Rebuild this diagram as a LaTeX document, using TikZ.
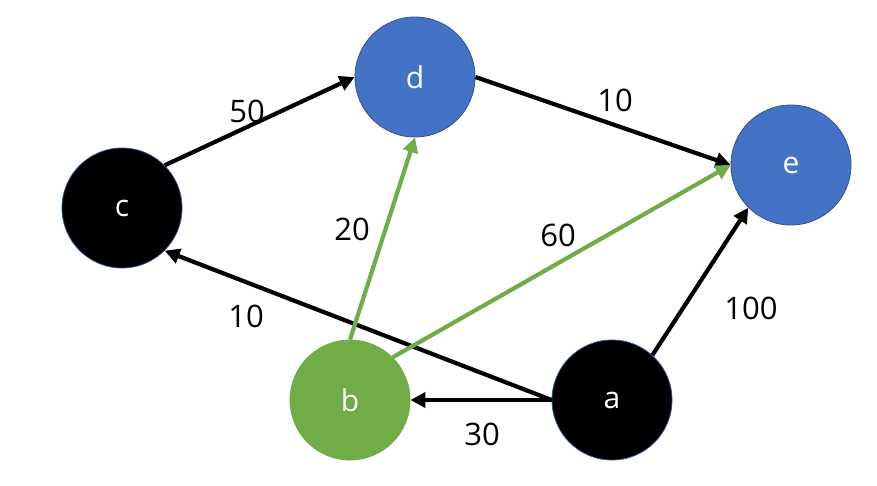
\documentclass[tikz,border=0pt]{standalone}
\usepackage{fontspec}
\setmainfont{Open Sans}
\usetikzlibrary{arrows.meta}
\definecolor{nblue}{HTML}{4472C4}
\definecolor{ngreen}{HTML}{70AD47}
\definecolor{nedge}{HTML}{2F528F}
\begin{document}
\begin{tikzpicture}[x=1pt,y=-1pt,
  vert/.style={circle,minimum size=120pt,inner sep=0pt,draw=nedge,line width=0.8pt,text=white,font=\fontsize{30}{33}\selectfont},
  blk/.style={vert,fill=black},
  blu/.style={vert,fill=nblue},
  grn/.style={vert,fill=ngreen,draw=ngreen},
  conn/.style={line width=4.2pt,-{Triangle[length=15pt,width=15pt]}},
  wlab/.style={font=\fontsize{31}{34}\selectfont,text=black,inner sep=0pt}]
\useasboundingbox (0,0) rectangle (877,485);
\node[blk] (c) at (122,208) {c};
\node[blu] (d) at (415,77) {d};
\node[blu] (e) at (791,165) {e};
\node[grn] (b) at (350,400) {b};
\node[blk] (a) at (612,400) {a};
\draw[conn] (c.45) -- (d.west);
\draw[conn] (d.east) -- (e.west);
\draw[conn] (a.west) -- (c.-45);
\draw[conn] (a.west) -- (b.east);
\draw[conn] (a.48) -- (e.225);
\draw[conn,ngreen] (b.north) -- (d.south);
\draw[conn,ngreen] (b.45) -- (e.west);
\node[wlab] (l50) at (247,111) {50};
\node[wlab] (l10a) at (615,100) {10};
\node[wlab] (l20) at (352,229) {20};
\node[wlab] (l60) at (558,235) {60};
\node[wlab] (l10b) at (246,316) {10};
\node[wlab] (l100) at (751,308) {100};
\node[wlab] (l30) at (482,434) {30};
\end{tikzpicture}
\end{document}
